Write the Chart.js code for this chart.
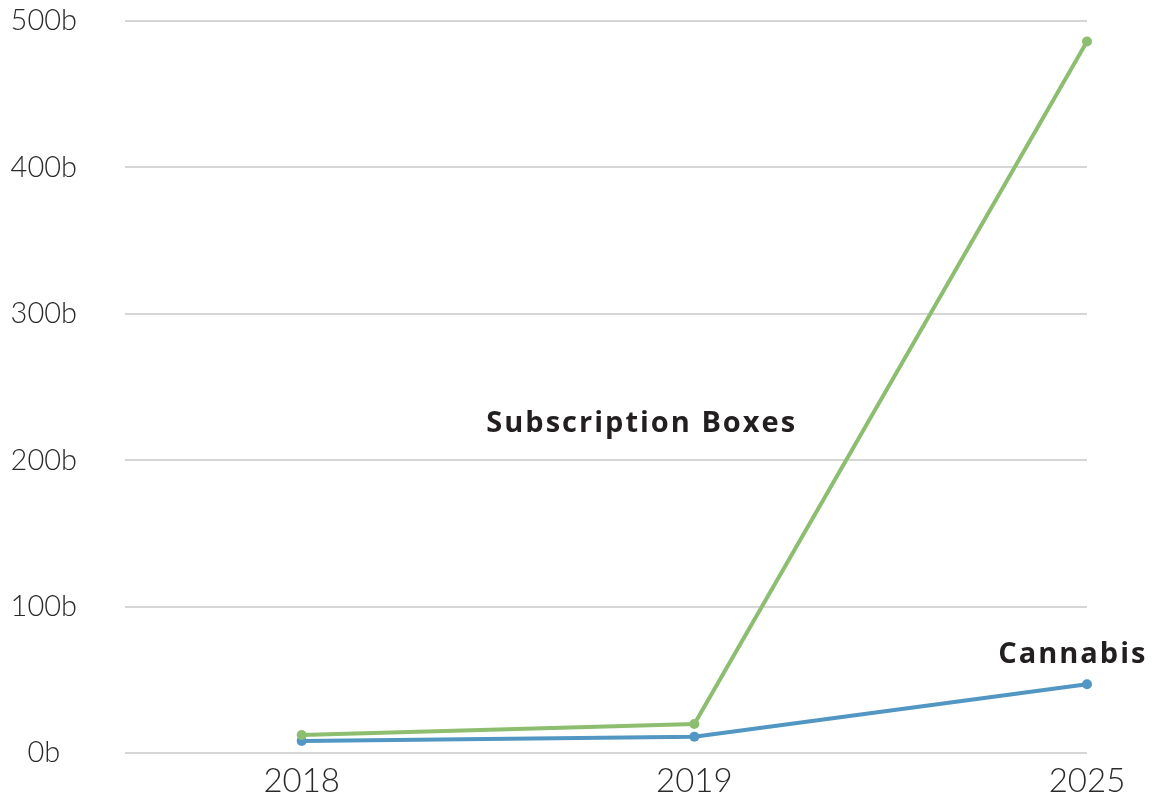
<!DOCTYPE html>
<html>
<head>
<meta charset="utf-8">
<script src="https://cdn.jsdelivr.net/npm/chart.js@4/dist/chart.umd.min.js"></script>
<style>
  html, body { margin: 0; padding: 0; background: #ffffff; }
  #wrap { position: relative; width: 1162px; height: 801px; }
</style>
</head>
<body>
<div id="wrap"><canvas id="c" width="1162" height="801"></canvas></div>
<script>
// ---- data ----
const years = ['2018', '2019', '2025'];
const subscriptionBoxes = [12.3, 19.8, 486];
const cannabis = [8.2, 11.1, 46.9];
const yTicks = [0, 100, 200, 300, 400, 500];
const seriesLabels = ['Subscription Boxes', 'Cannabis'];
// annotation anchors in data units (x index, y value)
const labelX = [0.866, 1.964];
const labelY = [219, 61.5];

const GREEN = '#8dbe6f';
const BLUE = '#5296c3';
const TEXT = '#231f20';

const toPts = (arr) => arr.map((v, i) => ({ x: i, y: v }));

const annotationPlugin = {
  id: 'seriesLabels',
  afterDatasetsDraw(chart) {
    const { ctx, scales: { x, y } } = chart;
    ctx.save();
    ctx.fillStyle = TEXT;
    ctx.font = '700 29px "Open Sans"';
    try { ctx.letterSpacing = '2px'; } catch (e) {}
    ctx.textAlign = 'center';
    ctx.textBaseline = 'alphabetic';
    seriesLabels.forEach((t, i) => {
      ctx.fillText(t, x.getPixelForValue(labelX[i]), y.getPixelForValue(labelY[i]));
    });
    ctx.restore();
  }
};

new Chart(document.getElementById('c'), {
  type: 'line',
  data: {
    datasets: [
      {
        label: seriesLabels[0],
        data: toPts(subscriptionBoxes),
        borderColor: GREEN,
        backgroundColor: GREEN,
        borderWidth: 4,
        pointRadius: 5,
        pointBorderWidth: 0,
        tension: 0,
        clip: false
      },
      {
        label: seriesLabels[1],
        data: toPts(cannabis),
        borderColor: BLUE,
        backgroundColor: BLUE,
        borderWidth: 4,
        pointRadius: 5,
        pointBorderWidth: 0,
        tension: 0,
        clip: false
      }
    ]
  },
  options: {
    responsive: false,
    animation: false,
    layout: { padding: { top: 21, right: 75, bottom: 0, left: 0 } },
    plugins: {
      legend: { display: false },
      tooltip: { enabled: false }
    },
    scales: {
      x: {
        type: 'linear',
        min: -0.45,
        max: 2,
        grid: { display: false, drawTicks: false },
        border: { display: false },
        afterBuildTicks: (s) => { s.ticks = years.map((_, i) => ({ value: i })); },
        afterFit: (s) => { s.height = 48; s.paddingLeft = 0; s.paddingRight = 0; },
        ticks: {
          autoSkip: false,
          maxRotation: 0,
          padding: 9,
          color: '#2a2a2a',
          font: { family: 'Lato', size: 33, weight: '300' },
          callback: (v) => years[v]
        }
      },
      y: {
        min: 0,
        max: 500,
        afterBuildTicks: (s) => { s.ticks = yTicks.map(v => ({ value: v })); },
        afterFit: (s) => { s.width = 125; s.paddingTop = 0; s.paddingBottom = 0; },
        grid: { color: '#d6d6d6', lineWidth: 2, drawTicks: false },
        border: { display: false },
        ticks: {
          crossAlign: 'center',
          padding: 48,
          color: '#2a2a2a',
          font: { family: 'Lato', size: 29, weight: '300' },
          callback: (v) => v + 'b'
        }
      }
    }
  },
  plugins: [annotationPlugin]
});
</script>
</body>
</html>
